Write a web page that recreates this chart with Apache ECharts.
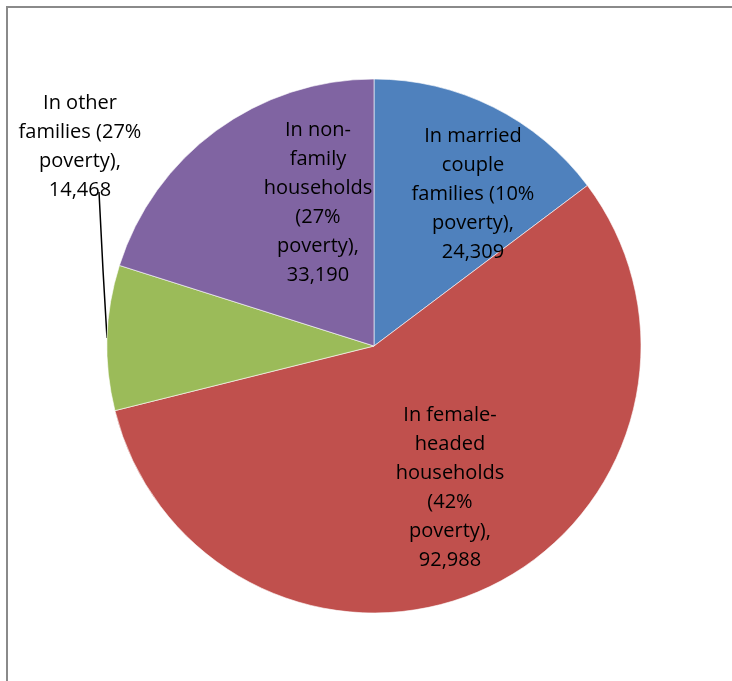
<!DOCTYPE html>
<html>
<head>
<meta charset="utf-8">
<script src="https://cdn.jsdelivr.net/npm/echarts@6/dist/echarts.min.js"></script>
<style>
  html, body { margin: 0; padding: 0; background: #fff; }
  #chart { width: 732px; height: 681px; }
</style>
</head>
<body>
<div id="chart"></div>
<script>
// slice names (line breaks as in the original labels)
const categories = [
  "In married\ncouple\nfamilies (10%\npoverty)",
  "In female-\nheaded\nhouseholds\n(42%\npoverty)",
  "In other\nfamilies (27%\npoverty)",
  "In non-\nfamily\nhouseholds\n(27%\npoverty)"
];
const values = [24309, 92988, 14468, 33190];
const colors = ["#4F81BD", "#C0504D", "#9BBB59", "#8064A2"];

// where each label sits (label centre), in px
const labelSpots = [
  [473, 194],
  [450, 488],
  [80, 147],
  [318, 203]
];

const chart = echarts.init(document.getElementById("chart"));

const option = {
  animation: false,
  textStyle: { fontFamily: "Open Sans" },
  graphic: [
    {
      type: "rect",
      shape: { x: 7, y: 7, width: 760, height: 720 },
      style: { fill: "none", stroke: "#8a8a8a", lineWidth: 2 }
    }
  ],
  series: [
    {
      type: "pie",
      center: [374, 346],
      radius: 267,
      startAngle: 90,
      clockwise: true,
      itemStyle: { borderColor: "#fff", borderWidth: 0.6 },
      label: {
        position: "inside",
        color: "#000",
        fontSize: 20,
        lineHeight: 29,
        align: "center",
        overflow: "none",
        formatter: (p) => p.name + ",\n" + p.value.toLocaleString("en-US")
      },
      labelLine: { show: false },
      labelLayout: (params) => {
        const i = params.dataIndex;
        const out = {
          x: labelSpots[i][0],
          y: labelSpots[i][1],
          align: "center",
          verticalAlign: "middle"
        };
        if (i === 2) {
          out.labelLinePoints = [[107, 338], [103, 270], [99, 192]];
        }
        return out;
      },
      data: values.map((v, i) => {
        const item = {
          name: categories[i],
          value: v,
          itemStyle: { color: colors[i] }
        };
        if (i === 2) {
          item.label = { position: "outside", alignTo: "none", width: 200, overflow: "none" };
          item.labelLine = {
            show: true,
            lineStyle: { color: "#000", width: 1.5 }
          };
        }
        return item;
      })
    }
  ]
};

chart.setOption(option);
</script>
</body>
</html>
